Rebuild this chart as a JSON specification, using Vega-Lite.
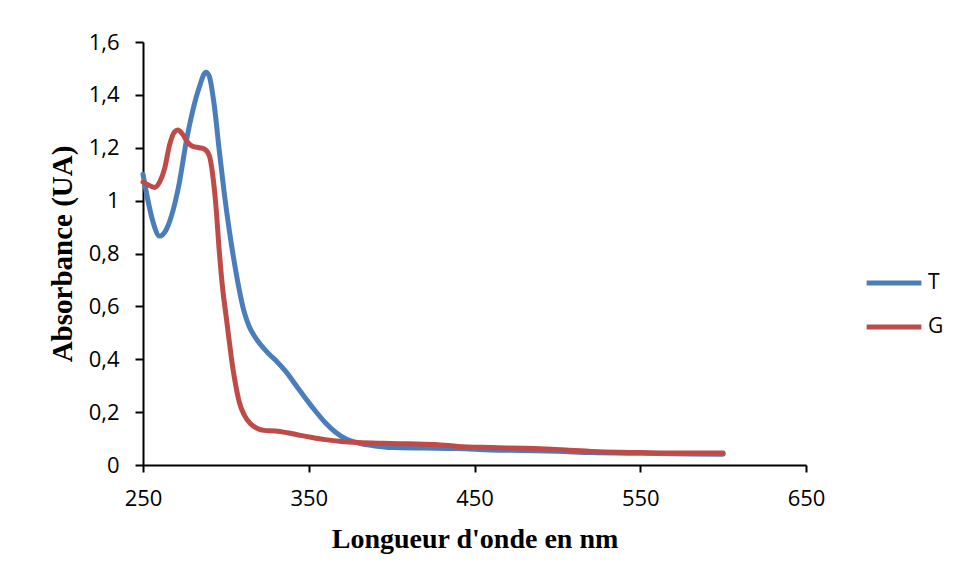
{
  "$schema": "https://vega.github.io/schema/vega-lite/v6.json",
  "autosize": {"type": "none"},
  "padding": {"left": 143, "top": 42, "right": 151, "bottom": 117},
  "width": 663,
  "height": 423,
  "background": "white",
  "config": {"view": {"stroke": null}},
  "data": {"values": [
    {"s":"T","x":250,"y":1.10},{"s":"T","x":253,"y":1.0},{"s":"T","x":256,"y":0.92},{"s":"T","x":260,"y":0.866},{"s":"T","x":264,"y":0.89},{"s":"T","x":268,"y":0.96},{"s":"T","x":272,"y":1.07},{"s":"T","x":276,"y":1.22},{"s":"T","x":280,"y":1.34},{"s":"T","x":284,"y":1.43},{"s":"T","x":288,"y":1.486},{"s":"T","x":290,"y":1.47},{"s":"T","x":293,"y":1.36},{"s":"T","x":296,"y":1.19},{"s":"T","x":299,"y":1.03},{"s":"T","x":302,"y":0.89},{"s":"T","x":305,"y":0.77},{"s":"T","x":308,"y":0.665},{"s":"T","x":311,"y":0.58},{"s":"T","x":314,"y":0.525},{"s":"T","x":317,"y":0.49},{"s":"T","x":321,"y":0.455},{"s":"T","x":326,"y":0.42},{"s":"T","x":331,"y":0.39},{"s":"T","x":336,"y":0.355},{"s":"T","x":343,"y":0.295},{"s":"T","x":352,"y":0.22},{"s":"T","x":360,"y":0.16},{"s":"T","x":366,"y":0.125},{"s":"T","x":372,"y":0.1},{"s":"T","x":380,"y":0.083},{"s":"T","x":390,"y":0.072},{"s":"T","x":400,"y":0.066},{"s":"T","x":420,"y":0.064},{"s":"T","x":440,"y":0.062},{"s":"T","x":460,"y":0.057},{"s":"T","x":480,"y":0.055},{"s":"T","x":500,"y":0.052},{"s":"T","x":520,"y":0.047},{"s":"T","x":550,"y":0.044},{"s":"T","x":580,"y":0.042},{"s":"T","x":600,"y":0.041},
    {"s":"G","x":250,"y":1.07},{"s":"G","x":253,"y":1.06},{"s":"G","x":257,"y":1.05},{"s":"G","x":260,"y":1.07},{"s":"G","x":263,"y":1.12},{"s":"G","x":266,"y":1.21},{"s":"G","x":269,"y":1.26},{"s":"G","x":271,"y":1.267},{"s":"G","x":274,"y":1.25},{"s":"G","x":277,"y":1.22},{"s":"G","x":280,"y":1.205},{"s":"G","x":284,"y":1.2},{"s":"G","x":287,"y":1.195},{"s":"G","x":290,"y":1.17},{"s":"G","x":292,"y":1.1},{"s":"G","x":294,"y":0.98},{"s":"G","x":296,"y":0.81},{"s":"G","x":298,"y":0.67},{"s":"G","x":300,"y":0.57},{"s":"G","x":302,"y":0.47},{"s":"G","x":304,"y":0.375},{"s":"G","x":306,"y":0.3},{"s":"G","x":308,"y":0.24},{"s":"G","x":311,"y":0.19},{"s":"G","x":315,"y":0.155},{"s":"G","x":319,"y":0.138},{"s":"G","x":323,"y":0.131},{"s":"G","x":330,"y":0.129},{"s":"G","x":338,"y":0.121},{"s":"G","x":345,"y":0.112},{"s":"G","x":352,"y":0.104},{"s":"G","x":360,"y":0.096},{"s":"G","x":370,"y":0.089},{"s":"G","x":380,"y":0.085},{"s":"G","x":395,"y":0.082},{"s":"G","x":410,"y":0.08},{"s":"G","x":428,"y":0.077},{"s":"G","x":440,"y":0.07},{"s":"G","x":460,"y":0.066},{"s":"G","x":480,"y":0.063},{"s":"G","x":505,"y":0.057},{"s":"G","x":525,"y":0.05},{"s":"G","x":550,"y":0.047},{"s":"G","x":575,"y":0.045},{"s":"G","x":600,"y":0.045}
  ]},
  "mark": {"type": "line", "interpolate": "monotone", "strokeWidth": 5, "strokeCap": "round", "strokeJoin": "round"},
  "encoding": {
    "x": {"field": "x", "type": "quantitative",
      "scale": {"domain": [250, 650], "nice": false, "zero": false},
      "axis": {"values": [250, 350, 450, 550, 650], "grid": false, "domainColor": "black", "domainWidth": 2, "tickColor": "black", "tickWidth": 2, "tickSize": 7, "labelFlush": false,
        "labelFont": "Open Sans", "labelFontSize": 22, "labelColor": "black", "labelPadding": 16,
        "title": "Longueur d'onde en nm", "titleFont": "Liberation Serif", "titleFontSize": 28, "titleFontWeight": "bold", "titleColor": "black", "titlePadding": 16}},
    "y": {"field": "y", "type": "quantitative",
      "scale": {"domain": [0, 1.6], "nice": false},
      "axis": {"values": [0, 0.2, 0.4, 0.6, 0.8, 1, 1.2, 1.4, 1.6], "grid": false, "domainColor": "black", "domainWidth": 2, "tickColor": "black", "tickWidth": 2, "tickSize": 8, "labelFlush": false,
        "labelFont": "Open Sans", "labelFontSize": 22, "labelColor": "black", "labelPadding": 16,
        "labelExpr": "replace(format(datum.value, '~g'), '.', ',')",
        "title": "Absorbance (UA)", "titleFont": "Liberation Serif", "titleFontSize": 29, "titleFontWeight": "bold", "titleColor": "black", "titlePadding": 11}},
    "color": {"field": "s", "type": "nominal",
      "scale": {"domain": ["T", "G"], "range": ["#4a7ebb", "#be4b48"]},
      "legend": {"title": null, "orient": "none", "legendX": 721, "legendY": 211, "symbolType": "stroke", "symbolSize": 3000, "symbolStrokeWidth": 5,
        "labelFont": "Open Sans", "labelFontSize": 21, "labelColor": "black", "rowPadding": 4, "labelOffset": 4}}
  }
}
